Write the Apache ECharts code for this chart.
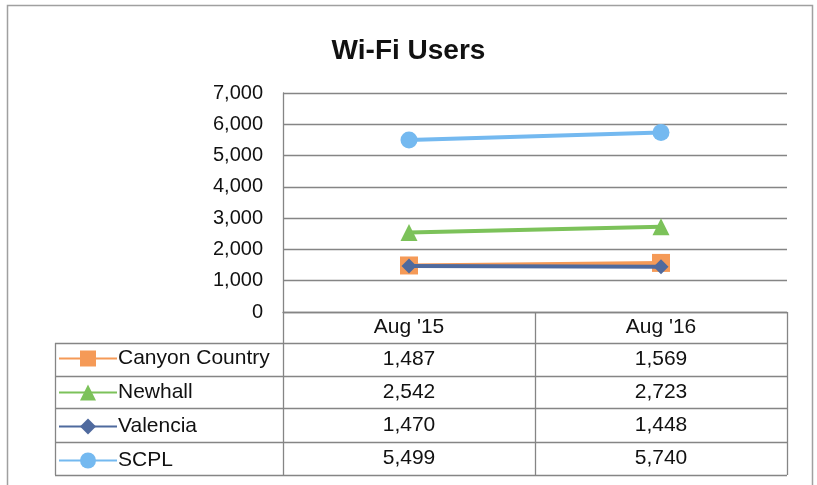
<!DOCTYPE html>
<html>
<head>
<meta charset="utf-8">
<title>Wi-Fi Users</title>
<script src="https://cdn.jsdelivr.net/npm/echarts@6/dist/echarts.min.js"></script>
<style>
  html, body { margin: 0; padding: 0; background: #fff; }
  #chart { width: 817px; height: 485px; }
</style>
</head>
<body>
<div id="chart"></div>
<script>
// data
const months = ["Aug '15", "Aug '16"]
const seriesNames = ['Canyon Country', 'Newhall', 'Valencia', 'SCPL']
const canyonCountry = [1487, 1569]
const newhall = [2542, 2723]
const valencia = [1470, 1448]
const scpl = [5499, 5740]
const yTicks = [0, 1000, 2000, 3000, 4000, 5000, 6000, 7000]

const seriesValues = [canyonCountry, newhall, valencia, scpl]
const colors = ['#f59a57', '#7cc25a', '#4f6a9e', '#74b9f0']
const symbols = ['rect', 'triangle', 'diamond', 'circle']
const symbolSizes = [18, 17, 15, 17]

// layout of the plot + data table (pixels)
const plotLeft = 283
const plotRight = 787
const plotTop = 93
const plotBottom = 312
const tableLeft = 55
const headerBottom = 343
const rowLines = [343, 376, 408, 442, 475]
const colMid = (plotLeft + plotRight) / 2

const fmt = v => v.toLocaleString('en-US')
const font = 'Arial, "Liberation Sans", sans-serif'
const lineColor = '#858585'

const chart = echarts.init(document.getElementById('chart'))

const graphic = []
// outer frame
graphic.push({
  type: 'rect',
  shape: { x: 7.5, y: 5.5, width: 805, height: 490 },
  style: { fill: 'none', stroke: '#a0a0a0', lineWidth: 1.5 },
  silent: true
})
// horizontal table lines
rowLines.forEach(y => {
  graphic.push({
    type: 'line',
    shape: { x1: tableLeft, y1: y + 0.5, x2: plotRight, y2: y + 0.5 },
    style: { stroke: lineColor, lineWidth: 1.3 }
  })
})
// vertical table lines
graphic.push({ type: 'line', shape: { x1: tableLeft + 0.5, y1: headerBottom, x2: tableLeft + 0.5, y2: 475 }, style: { stroke: lineColor, lineWidth: 1.3 } })
;[plotLeft, colMid, plotRight].forEach(x => {
  graphic.push({
    type: 'line',
    shape: { x1: x + 0.5, y1: plotBottom, x2: x + 0.5, y2: 475 },
    style: { stroke: lineColor, lineWidth: 1.3 }
  })
})
// table values
const colCenters = [(plotLeft + colMid) / 2, (colMid + plotRight) / 2]
seriesValues.forEach((vals, r) => {
  const yMid = (rowLines[r] + rowLines[r + 1]) / 2
  vals.forEach((v, c) => {
    graphic.push({
      type: 'text',
      x: colCenters[c],
      y: yMid,
      style: {
        text: fmt(v),
        fill: '#111',
        font: '21px ' + font,
        align: 'center',
        verticalAlign: 'middle'
      }
    })
  })
})

const option = {
  backgroundColor: '#fff',
  animation: false,
  title: {
    text: 'Wi-Fi Users',
    left: 'center',
    top: 32,
    textStyle: { fontFamily: font, fontSize: 28, fontWeight: 'bold', color: '#111' }
  },
  legend: {
    orient: 'vertical',
    left: 58,
    top: 348,
    padding: 0,
    itemWidth: 58,
    itemHeight: 20,
    itemGap: 13,
    data: seriesNames,
    textStyle: { fontFamily: font, fontSize: 21, lineHeight: 20, color: '#111', padding: [0, 0, 0, -4] }
  },
  grid: {
    left: plotLeft,
    right: 817 - plotRight,
    top: plotTop,
    bottom: 485 - plotBottom
  },
  xAxis: {
    type: 'category',
    data: months,
    boundaryGap: true,
    axisLine: { lineStyle: { color: lineColor, width: 1.3 } },
    axisTick: { show: false },
    axisLabel: { fontFamily: font, fontSize: 21, color: '#111', margin: 5 }
  },
  yAxis: {
    type: 'value',
    min: yTicks[0],
    max: yTicks[yTicks.length - 1],
    interval: 1000,
    axisLine: { show: true, lineStyle: { color: lineColor, width: 1.3 } },
    axisTick: { show: false },
    axisLabel: { fontFamily: font, fontSize: 20, color: '#111', margin: 20, formatter: v => fmt(v) },
    splitLine: { lineStyle: { color: lineColor, width: 1.3 } }
  },
  series: seriesNames.map((name, i) => ({
    name,
    type: 'line',
    data: seriesValues[i],
    symbol: symbols[i],
    symbolSize: symbolSizes[i],
    lineStyle: { color: colors[i], width: 4 },
    itemStyle: { color: colors[i] },
    z: 2 + i
  })),
  graphic
}

chart.setOption(option)
</script>
</body>
</html>
